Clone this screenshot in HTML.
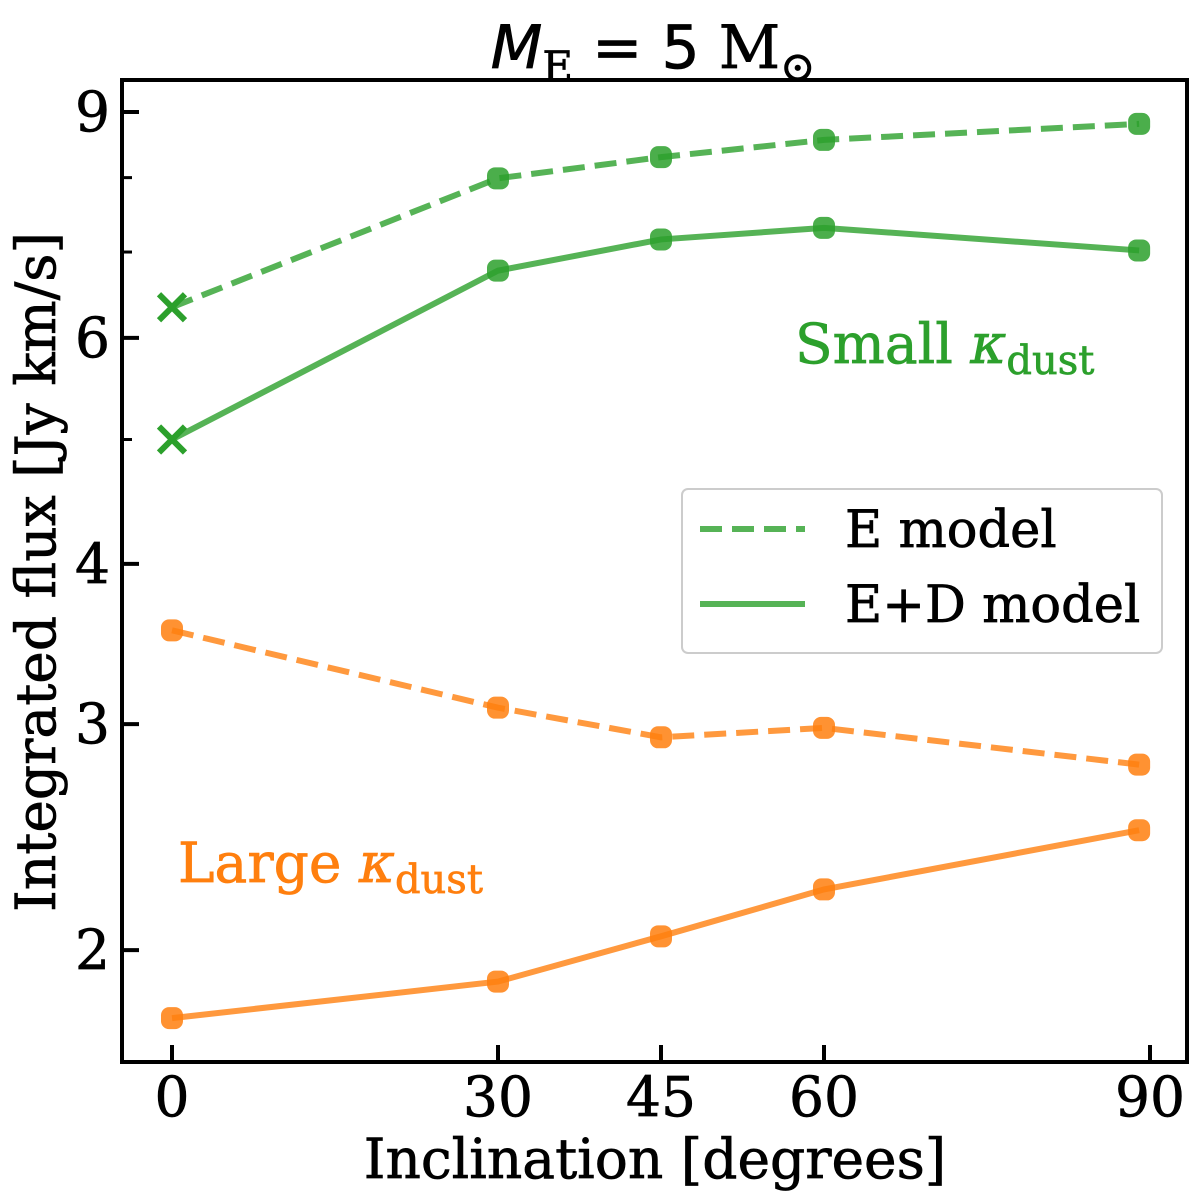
<!DOCTYPE html>
<html><head><meta charset="utf-8"><style>
body{margin:0;background:#fff;}
svg{display:block;font-family:"DejaVu Serif","Liberation Serif",serif;}
text{stroke:currentColor;stroke-width:0.7px;}
</style></head><body>
<svg id="chart" width="1200" height="1198" viewBox="0 0 1200 1198">
<g id="marks"></g>
<g id="axes"></g>
<text x="653" y="68" text-anchor="middle" font-size="60" color="#000"><tspan font-family="DejaVu Sans" font-style="italic">M</tspan><tspan font-size="42" dy="13">E</tspan><tspan dy="-13" font-family="DejaVu Sans"> = 5 </tspan><tspan>M</tspan><tspan font-size="42" dy="13">⊙</tspan></text>
<text x="655" y="1178" text-anchor="middle" font-size="55" color="#000">Inclination [degrees]</text>
<text transform="translate(55,572) rotate(-90)" text-anchor="middle" font-size="55" color="#000">Integrated flux [Jy km/s]</text>
<text x="795" y="363" font-size="55" fill="#2ca02c" color="#2ca02c">Small <tspan font-style="italic">κ</tspan><tspan font-size="40" dy="11">dust</tspan></text>
<text x="178" y="882" font-size="55" fill="#ff7f0e" color="#ff7f0e">Large <tspan font-style="italic">κ</tspan><tspan font-size="40" dy="11">dust</tspan></text>
<g>
<rect x="682" y="489" width="480" height="164" rx="6" fill="#fff" stroke="#ccc" stroke-width="2"/>
<line x1="700" y1="529" x2="805" y2="529" stroke="#2ca02c" stroke-opacity="0.8" stroke-width="6" stroke-dasharray="22,10"/>
<text x="845" y="547" font-size="51" color="#000">E model</text>
<line x1="700" y1="604" x2="805" y2="604" stroke="#2ca02c" stroke-opacity="0.8" stroke-width="6"/>
<text x="845" y="622" font-size="51" color="#000">E+D model</text>
</g>
</svg>
<script>
const xValues=[0,30,45,60,89];
const greenE=[6.34,7.99,8.30,8.56,8.81];
const greenED=[5.00,6.77,7.16,7.31,7.02];
const orangeE=[3.55,3.09,2.93,2.98,2.79];
const orangeED=[1.77,1.89,2.05,2.23,2.48];
const xTicks=[0,30,45,60,90];
const yTicks=[2,3,4,6,9];
const yMinor=[5,7,8];
const L=122,R=1187,T=80,B=1062;
function xs(v){return 172+v*(1150-172)/90;}
function ys(v){return 112+(Math.log10(9)-Math.log10(v))*1283;}
const NS="http://www.w3.org/2000/svg";
const marks=document.getElementById('marks'),axes=document.getElementById('axes');
function mk(tag,attrs,parent){const e=document.createElementNS(NS,tag);for(const k in attrs)e.setAttribute(k,attrs[k]);parent.appendChild(e);return e;}
function series(vals,color,dashed,name,firstX){
  const pts=xValues.map((x,i)=>xs(x)+','+ys(vals[i])).join(' ');
  const pl=mk('polyline',{points:pts,fill:'none',stroke:color,'stroke-opacity':0.8,'stroke-width':6,'stroke-dasharray':dashed?'22,10':'none'},marks);
  
  
  xValues.forEach((x,i)=>{
    const cx=xs(x),cy=ys(vals[i]);
    if(i===0&&firstX){
      const g=mk('path',{d:`M${cx-13},${cy-13}L${cx+13},${cy+13}M${cx-13},${cy+13}L${cx+13},${cy-13}`,stroke:color,'stroke-width':6},marks);
      
      
    }else{
      const c=mk('rect',{x:cx-11,y:cy-11,width:22,height:22,rx:8,fill:color,'fill-opacity':0.85},marks);
      
      
    }
  });
}
series(greenE,'#2ca02c',true,'green-e-model',true);
series(greenED,'#2ca02c',false,'green-ed-model',true);
series(orangeE,'#ff7f0e',true,'orange-e-model',false);
series(orangeED,'#ff7f0e',false,'orange-ed-model',false);
const fr=mk('rect',{x:L,y:T,width:R-L,height:B-T,fill:'none',stroke:'#000','stroke-width':4},axes);


xTicks.forEach(t=>{
  const x=xs(t);
  const l=mk('line',{x1:x,y1:B,x2:x,y2:B-17,stroke:'#000','stroke-width':4},axes);
  
  
  const tx=mk('text',{x:x,y:B+54,'text-anchor':'middle','font-size':55,color:'#000'},axes);
  tx.textContent=t;
  
  
});
yTicks.forEach(t=>{
  const y=ys(t);
  const l=mk('line',{x1:L,y1:y,x2:L+17,y2:y,stroke:'#000','stroke-width':4},axes);
  
  
  const tx=mk('text',{x:L-12,y:y+19,'text-anchor':'end','font-size':55,color:'#000'},axes);
  tx.textContent=t;
  
  
});
yMinor.forEach(t=>{
  const y=ys(t);
  const l=mk('line',{x1:L,y1:y,x2:L+10,y2:y,stroke:'#000','stroke-width':3},axes);
  
  
});
</script>
</body></html>
